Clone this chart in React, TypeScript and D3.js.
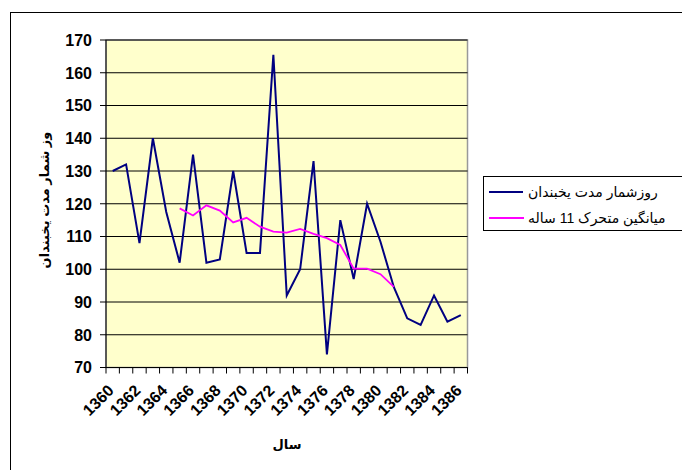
import React from "react";
import * as d3 from "d3";

const years = [1360, 1361, 1362, 1363, 1364, 1365, 1366, 1367, 1368, 1369, 1370, 1371, 1372, 1373, 1374, 1375, 1376, 1377, 1378, 1379, 1380, 1381, 1382, 1383, 1384, 1385, 1386];
const frostDays = [130, 132, 108, 140, 117.5, 102, 135, 102, 103, 130, 105, 105, 165.5, 92, 100, 133, 74, 115, 97, 120, 108.4, 94.5, 85, 83, 92, 84, 86];
const movingAvg: (number | null)[] = [null, null, null, null, null, 118.6, 116.4, 119.5, 117.9, 114.3, 115.7, 113, 111.5, 111.2, 112.3, 110.8, 109.5, 107.4, 100.2, 100.2, 98.5, 94.6, null, null, null, null, null];
const yTicks = [70, 80, 90, 100, 110, 120, 130, 140, 150, 160, 170];
const xLabels = [1360, 1362, 1364, 1366, 1368, 1370, 1372, 1374, 1376, 1378, 1380, 1382, 1384, 1386];
const seriesNames = ["روزشمار مدت یخبندان", "میانگین متحرک 11 ساله"];
const yTitle = "وز شمار مدت یخبندان";
const xTitle = "سال";

const W = 682;
const H = 470;
const plot = { left: 106, right: 467.5, top: 40, bottom: 367.5 };
const FONT = "Arial, 'Liberation Sans', 'DejaVu Sans', sans-serif";

export default function App() {
  const x = d3.scaleBand<number>().domain(years).range([plot.left, plot.right]).padding(0);
  const bw = x.bandwidth();
  const cx = (yr: number) => (x(yr) as number) + bw / 2;
  const y = d3.scaleLinear().domain([70, 170]).range([plot.bottom, plot.top]);

  const lineBlue = d3.line<number>().x((_, i) => cx(years[i])).y((d) => y(d));
  const lineMag = d3
    .line<number | null>()
    .defined((d) => d !== null)
    .x((_, i) => cx(years[i]))
    .y((d) => y(d as number));

  const boundaries = d3.range(years.length + 1).map((i) => plot.left + i * bw);

  return (
    <svg width={W} height={H} style={{ position: "absolute", left: 0, top: 0, display: "block" }} fontFamily={FONT}>
      <rect x={0} y={0} width={W} height={H} fill="#fff" />
      {/* chart area */}
      <rect x={10.5} y={12.5} width={720} height={520} fill="#fff" stroke="#000" strokeWidth={1} />
      {/* plot area */}
      <rect x={plot.left} y={plot.top} width={plot.right - plot.left} height={plot.bottom - plot.top} fill="#FFFFCC" stroke="#999" strokeWidth={1.5} />
      {yTicks.map((t) => (
        <line key={"g" + t} x1={plot.left} x2={plot.right} y1={y(t)} y2={y(t)} stroke="#000" strokeWidth={1} />
      ))}
      {/* axes */}
      <line x1={plot.left} x2={plot.left} y1={plot.top} y2={plot.bottom} stroke="#000" strokeWidth={1} />
      <line x1={plot.left} x2={plot.right} y1={plot.bottom} y2={plot.bottom} stroke="#000" strokeWidth={1} />
      {yTicks.map((t) => (
        <g key={"yt" + t}>
          <line x1={plot.left - 6} x2={plot.left} y1={y(t)} y2={y(t)} stroke="#000" />
          <text x={92} y={y(t)} dy="0.36em" textAnchor="end" fontSize={16} fontWeight="bold" fill="#000">
            {t}
          </text>
        </g>
      ))}
      {boundaries.map((bx, i) => (
        <line key={"xt" + i} x1={bx} x2={bx} y1={plot.bottom} y2={plot.bottom + 6} stroke="#000" />
      ))}
      {xLabels.map((yr) => (
        <text
          key={"xl" + yr}
          transform={`translate(${cx(yr) - 2},${plot.bottom + 20}) rotate(-45)`}
          textAnchor="end"
          dy="0.36em"
          fontSize={16}
          fontWeight="bold"
          fill="#000"
        >
          {yr}
        </text>
      ))}
      {/* series */}
      <path d={lineBlue(frostDays) || ""} fill="none" stroke="#000080" strokeWidth={2} strokeLinejoin="miter" />
      <path d={lineMag(movingAvg) || ""} fill="none" stroke="#FF00FF" strokeWidth={1.8} />
      {/* titles */}
      <text transform="translate(49,200) rotate(-90)" textAnchor="middle" fontSize={13} fontWeight="bold" fill="#000">
        {yTitle}
      </text>
      <text x={287} y={449} textAnchor="middle" fontSize={13} fontWeight="bold" fill="#000">
        {xTitle}
      </text>
      {/* legend */}
      <rect x={483.5} y={176.5} width={240} height={54} fill="#fff" stroke="#000" strokeWidth={1} />
      <line x1={489} x2={523} y1={192} y2={192} stroke="#000080" strokeWidth={2} />
      <text x={528} y={197} fontSize={14} fill="#000">{seriesNames[0]}</text>
      <line x1={489} x2={524} y1={218} y2={218} stroke="#FF00FF" strokeWidth={2} />
      <text x={528} y={223} fontSize={14} fill="#000">{seriesNames[1]}</text>
    </svg>
  );
}
